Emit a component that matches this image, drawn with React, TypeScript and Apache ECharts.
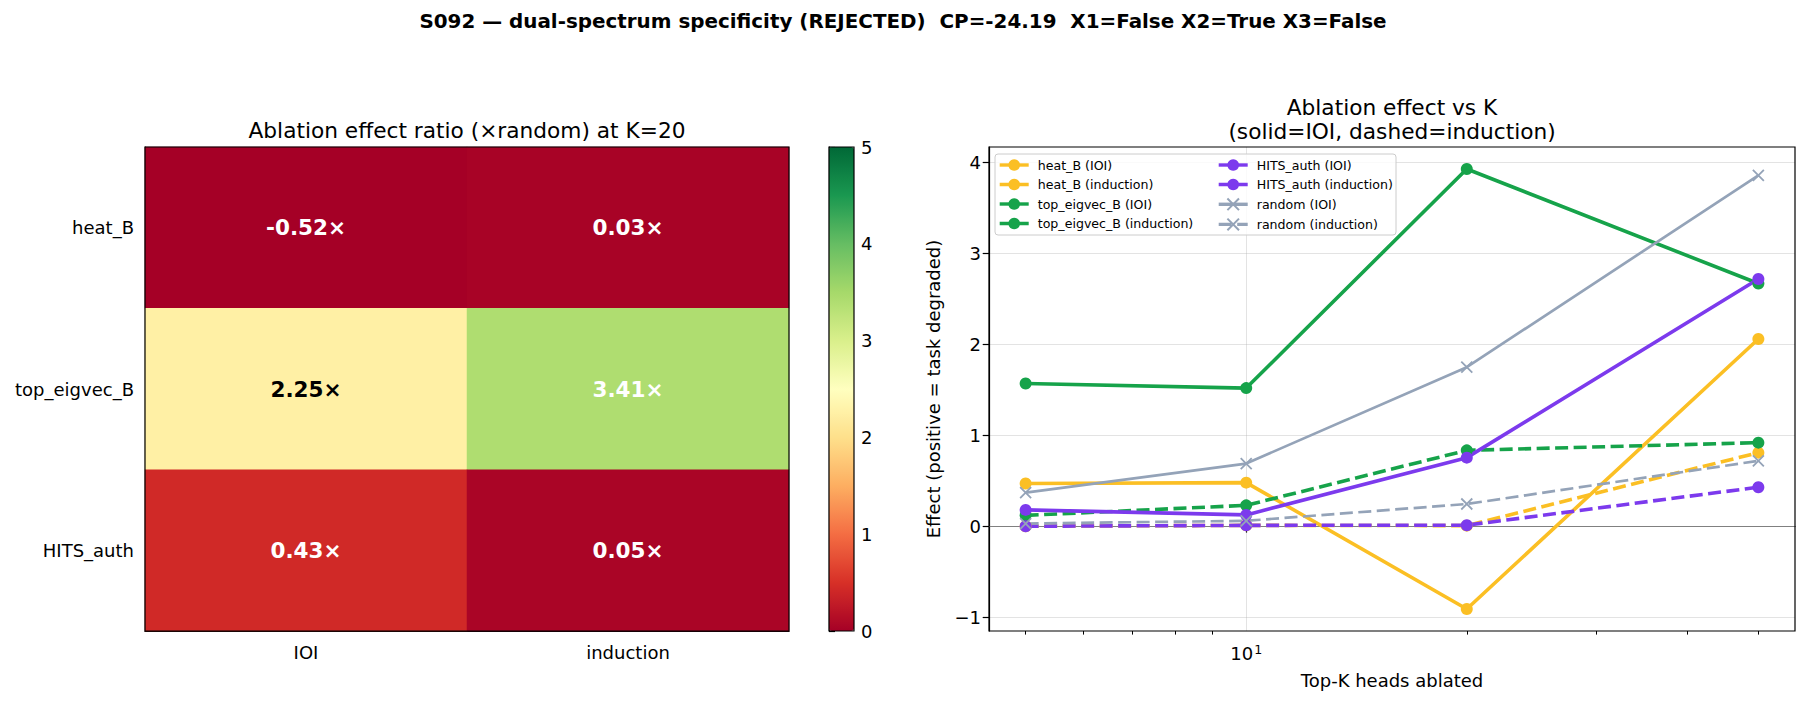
import React, { useEffect, useRef } from 'react';
import * as echarts from 'echarts';

const FONT = 'DejaVu Sans';

// Heatmap: ablation effect ratio (x random) at K=20
const methods = ['heat_B', 'top_eigvec_B', 'HITS_auth'];
const tasks = ['IOI', 'induction'];
const ratioIOI = [-0.52, 2.25, 0.43];
const ratioInduction = [0.03, 3.41, 0.05];
const cbarTicks = [0, 1, 2, 3, 4, 5];

// Line chart: ablation effect vs number of heads ablated
const K = [5, 10, 20, 50];
const heatB_IOI = [0.47, 0.48, -0.91, 2.06];
const heatB_induction = [0.0, 0.01, 0.007, 0.81];
const topEigvecB_IOI = [1.57, 1.52, 3.93, 2.67];
const topEigvecB_induction = [0.12, 0.23, 0.835, 0.92];
const hitsAuth_IOI = [0.18, 0.125, 0.755, 2.72];
const hitsAuth_induction = [0.0, 0.01, 0.012, 0.43];
const random_IOI = [0.37, 0.69, 1.75, 3.86];
const random_induction = [0.03, 0.06, 0.245, 0.72];

const yTicks = [-1, 0, 1, 2, 3, 4];
const xMajorTicks = [10];
const xMinorTicks = [5, 6, 7, 8, 9, 20, 30, 40, 50];

const RdYlGn = ['#a50026', '#d73027', '#f46d43', '#fdae61', '#fee08b', '#ffffbf', '#d9ef8b', '#a6d96a', '#66bd63', '#1a9850', '#006837'];

const COLORS = {
  heat: '#fbbf24',
  eig: '#16a34a',
  hits: '#7c3aed',
  rand: '#94a3b8',
};

const CROSS = 'path://M0 0L10 10M10 0L0 10';

type LineDef = { name: string; values: number[]; color: string; dashed: boolean; cross?: boolean };

const lines: LineDef[] = [
  { name: 'heat_B (IOI)', values: heatB_IOI, color: COLORS.heat, dashed: false },
  { name: 'heat_B (induction)', values: heatB_induction, color: COLORS.heat, dashed: true },
  { name: 'top_eigvec_B (IOI)', values: topEigvecB_IOI, color: COLORS.eig, dashed: false },
  { name: 'top_eigvec_B (induction)', values: topEigvecB_induction, color: COLORS.eig, dashed: true },
  { name: 'HITS_auth (IOI)', values: hitsAuth_IOI, color: COLORS.hits, dashed: false },
  { name: 'HITS_auth (induction)', values: hitsAuth_induction, color: COLORS.hits, dashed: true },
  { name: 'random (IOI)', values: random_IOI, color: COLORS.rand, dashed: false, cross: true },
  { name: 'random (induction)', values: random_induction, color: COLORS.rand, dashed: true, cross: true },
];

const minus = (v: number) => (v < 0 ? '\u2212' + Math.abs(v) : String(v));

function buildOption() {
  // heatmap cells, colour value clipped to the colour bar range
  const cells: any[] = [];
  methods.forEach((m, j) => {
    [ratioIOI[j], ratioInduction[j]].forEach((v, i) => {
      const c = Math.max(0, Math.min(5, v));
      cells.push({
        value: [i, j, c, v],
        label: { color: v > 1.5 && v < 3.2 ? '#000' : '#fff' },
      });
    });
  });

  // axis extents with a 5% margin, log-space for K
  const all = lines.flatMap((l) => l.values);
  const yLo = Math.min(...all);
  const yHi = Math.max(...all);
  const yPad = (yHi - yLo) * 0.05;
  const lkLo = Math.log10(Math.min(...K));
  const lkHi = Math.log10(Math.max(...K));
  const kPad = (lkHi - lkLo) * 0.05;
  const xMin = Math.pow(10, lkLo - kPad);
  const xMax = Math.pow(10, lkHi + kPad);

  const axisLineBlack = { show: true, lineStyle: { color: '#000', width: 1.2 } };
  const tickLabel = { fontFamily: FONT, fontSize: 18, color: '#000' };

  const lineSeries = lines.map((l, idx) => {
    const s: any = {
      type: 'line',
      name: l.name,
      xAxisIndex: 1,
      yAxisIndex: 1,
      data: K.map((k, i) => [k, l.values[i]]),
      symbol: l.cross ? CROSS : 'circle',
      symbolSize: l.cross ? 11 : 12,
      showSymbol: true,
      lineStyle: { color: l.color, width: l.cross ? 2.7 : 3.6, type: l.dashed ? [13, 5.5] : 'solid' },
      itemStyle: l.cross
        ? { color: 'transparent', borderColor: l.color, borderWidth: 1.8 }
        : { color: l.color, borderWidth: 0 },
      emphasis: { disabled: true },
      z: 3,
    };
    if (idx === 0) {
      s.markLine = {
        silent: true,
        symbol: 'none',
        label: { show: false },
        lineStyle: { color: '#808080', width: 1, type: 'solid' },
        data: [{ yAxis: 0 }],
        z: 1,
      };
    }
    return s;
  });

  const legendCommon = {
    orient: 'vertical',
    top: 158.5,
    padding: 0,
    itemWidth: 29,
    itemHeight: 14.5,
    itemGap: 6.5,
    z: 6,
    lineStyle: { width: 3.4 },
    textStyle: { fontFamily: FONT, fontSize: 12.6, color: '#000', padding: [0, 0, 0, 4] },
  };

  return {
    animation: false,
    backgroundColor: '#fff',
    textStyle: { fontFamily: FONT },
    grid: [
      { left: 145, top: 147, width: 644, height: 484, show: true, z: 10, backgroundColor: 'transparent', borderColor: '#000', borderWidth: 1.2 },
      { left: 989, top: 147, width: 806, height: 484, show: true, z: 10, backgroundColor: 'transparent', borderColor: '#000', borderWidth: 1.2 },
      { left: 829, top: 147, width: 25, height: 484, show: true, z: 10, backgroundColor: 'transparent', borderColor: '#000', borderWidth: 1.2 },
    ],
    xAxis: [
      {
        type: 'category',
        gridIndex: 0,
        data: tasks,
        axisLine: axisLineBlack,
        axisTick: { alignWithLabel: true, length: 6, lineStyle: { color: '#000', width: 1.2 } },
        axisLabel: { ...tickLabel, margin: 12 },
        splitLine: { show: false },
      },
      {
        type: 'log',
        gridIndex: 1,
        position: 'bottom',
        min: xMin,
        max: xMax,
        axisLine: axisLineBlack,
        axisTick: { customValues: xMajorTicks, length: 6.3, lineStyle: { color: '#000', width: 1.2 } },
        axisLabel: {
          customValues: xMajorTicks,
          margin: 12,
          formatter: (v: number) => `{b|10}{s|${Math.round(Math.log10(v))}}`,
          rich: {
            b: { fontFamily: FONT, fontSize: 18, color: '#000' },
            s: { fontFamily: FONT, fontSize: 12.6, color: '#000', verticalAlign: 'top', padding: [0, 0, 8, 1] },
          },
        },
        splitLine: { show: true, lineStyle: { color: 'rgba(176,176,176,0.35)', width: 1 } },
        minorTick: { show: false },
        name: 'Top-K heads ablated',
        nameLocation: 'middle',
        nameGap: 40,
        nameTextStyle: { ...tickLabel, verticalAlign: 'top' },
      },
      {
        type: 'log',
        gridIndex: 1,
        position: 'bottom',
        min: xMin,
        max: xMax,
        axisLine: { show: false },
        axisTick: { customValues: xMinorTicks, length: 3.6, lineStyle: { color: '#000', width: 1 } },
        axisLabel: { show: false },
        splitLine: { show: false },
      },
      {
        type: 'value',
        gridIndex: 2,
        show: false,
        min: 0,
        max: 1,
      },
    ],
    yAxis: [
      {
        type: 'category',
        gridIndex: 0,
        data: methods,
        inverse: true,
        axisLine: axisLineBlack,
        axisTick: { alignWithLabel: true, length: 6, lineStyle: { color: '#000', width: 1.2 } },
        axisLabel: { ...tickLabel, margin: 11 },
        splitLine: { show: false },
      },
      {
        type: 'value',
        gridIndex: 1,
        min: yLo - yPad,
        max: yHi + yPad,
        axisLine: axisLineBlack,
        axisTick: { show: true, customValues: yTicks, length: 6.3, lineStyle: { color: '#000', width: 1.2 } },
        axisLabel: { ...tickLabel, customValues: yTicks, margin: 8, formatter: minus },
        splitLine: { show: true, lineStyle: { color: 'rgba(176,176,176,0.35)', width: 1 } },
        name: 'Effect (positive = task degraded)',
        nameLocation: 'middle',
        nameGap: 47,
        nameTextStyle: { ...tickLabel },
      },
      {
        type: 'value',
        gridIndex: 2,
        position: 'right',
        min: 0,
        max: 5,
        interval: 1,
        axisLine: axisLineBlack,
        axisTick: { show: true, length: 6, lineStyle: { color: '#000', width: 1.2 } },
        axisLabel: { ...tickLabel, margin: 7, customValues: cbarTicks },
        splitLine: { show: false },
      },
    ],
    visualMap: {
      type: 'continuous',
      seriesIndex: 0,
      dimension: 2,
      min: 0,
      max: 5,
      calculable: false,
      inRange: { color: RdYlGn },
      left: 829,
      top: 147,
      padding: 0,
      itemWidth: 25,
      itemHeight: 484,
      z: 4,
    },
    legend: [
      { ...legendCommon, left: 998, data: lines.slice(0, 4).map((l) => l.name) },
      { ...legendCommon, left: 1217, data: lines.slice(4).map((l) => l.name) },
    ],
    graphic: [
      {
        type: 'rect',
        z: 5,
        shape: { x: 995, y: 154, width: 401, height: 81, r: 3 },
        style: { fill: 'rgba(255,255,255,0.8)', stroke: '#cccccc', lineWidth: 1 },
      },
      {
        type: 'text',
        x: 903,
        y: 21,
        style: {
          text: 'S092 \u2014 dual-spectrum specificity (REJECTED)\u00a0 CP=-24.19\u00a0 X1=False X2=True X3=False',
          font: `bold 19.9px "${FONT}"`,
          fill: '#000',
          textAlign: 'center',
          textVerticalAlign: 'middle',
        },
      },
      {
        type: 'text',
        x: 467,
        y: 130,
        style: { text: 'Ablation effect ratio (\u00d7random) at K=20', font: `21.7px "${FONT}"`, fill: '#000', textAlign: 'center', textVerticalAlign: 'middle' },
      },
      {
        type: 'text',
        x: 1392,
        y: 107,
        style: { text: 'Ablation effect vs K', font: `21.7px "${FONT}"`, fill: '#000', textAlign: 'center', textVerticalAlign: 'middle' },
      },
      {
        type: 'text',
        x: 1392,
        y: 131,
        style: { text: '(solid=IOI, dashed=induction)', font: `21.7px "${FONT}"`, fill: '#000', textAlign: 'center', textVerticalAlign: 'middle' },
      },
    ],
    series: [
      {
        type: 'heatmap',
        xAxisIndex: 0,
        yAxisIndex: 0,
        data: cells,
        label: {
          show: true,
          fontFamily: FONT,
          fontWeight: 'bold',
          fontSize: 21.5,
          formatter: (p: any) => `${p.data.value[3].toFixed(2)}\u00d7`,
        },
        itemStyle: { borderWidth: 0 },
        emphasis: { disabled: true },
      },
      ...lineSeries,
    ],
  };
}

export default function App() {
  const ref = useRef<HTMLDivElement>(null);
  useEffect(() => {
    if (!ref.current) return;
    const chart = echarts.init(ref.current, null, { renderer: 'svg' });
    chart.setOption(buildOption() as any);
    return () => chart.dispose();
  }, []);
  return <div ref={ref} style={{ position: 'fixed', left: 0, top: 0, width: 1806, height: 702, background: '#fff' }} />;
}
